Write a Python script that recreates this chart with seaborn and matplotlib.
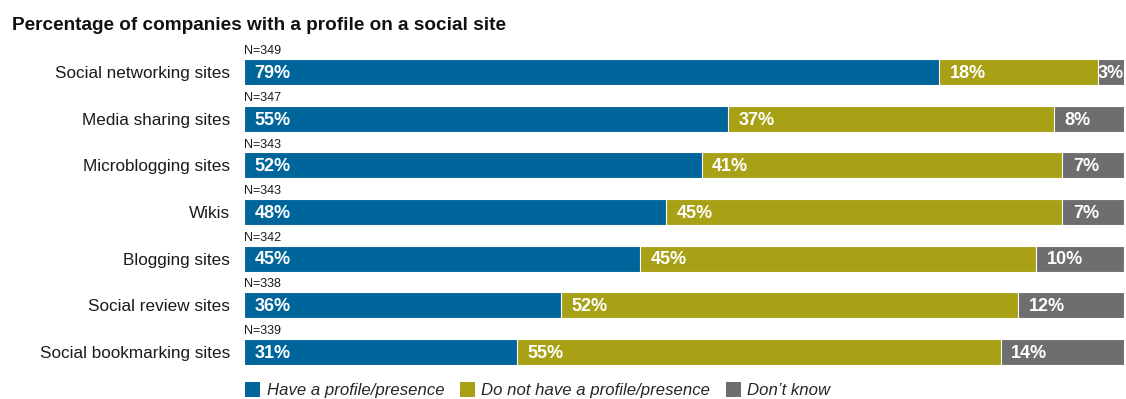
import matplotlib
matplotlib.use("Agg")
import matplotlib.pyplot as plt
from matplotlib.patches import Patch
import seaborn as sns
import pandas as pd
import numpy as np

categories = ["Social networking sites", "Media sharing sites", "Microblogging sites",
              "Wikis", "Blogging sites", "Social review sites", "Social bookmarking sites"]
have = [79, 55, 52, 48, 45, 36, 31]
have_not = [18, 37, 41, 45, 45, 52, 55]
dont_know = [3, 8, 7, 7, 10, 12, 14]
n_values = [349, 347, 343, 343, 342, 338, 339]
series_names = ["Have a profile/presence", "Do not have a profile/presence", "Don\u2019t know"]
title = "Percentage of companies with a profile on a social site"

colors = ["#00659b", "#a8a116", "#6e6e70"]

sns.set_theme(style="white")
plt.rcParams["font.family"] = ["Liberation Sans", "DejaVu Sans"]

df = pd.DataFrame({"category": categories, "have": have, "have_not": have_not,
                   "dont_know": dont_know})
df["c1"] = df["have"]
df["c2"] = df["have"] + df["have_not"]
df["c3"] = df["c2"] + df["dont_know"]

fig = plt.figure(figsize=(11.26, 3.99), dpi=100)
ax = fig.add_axes([244 / 1126, 1 - 375 / 399, 880 / 1126, (375 - 49) / 399])

bw = 0.56
for col, c in zip(["c3", "c2", "c1"], colors[::-1]):
    sns.barplot(data=df, x=col, y="category", color=c, saturation=1, width=bw,
                edgecolor="white", linewidth=0.8, ax=ax, orient="h")

ax.set_xlim(0, 100)
ax.set_xlabel("")
ax.set_ylabel("")
ax.set_xticks([])
ax.tick_params(axis="y", length=0, pad=10, labelsize=12.3, labelcolor="#1a1a1a")
for s in ax.spines.values():
    s.set_visible(False)

for i in range(len(categories)):
    starts = [0, have[i], have[i] + have_not[i]]
    vals = [have[i], have_not[i], dont_know[i]]
    for st, v in zip(starts, vals):
        off = 1.2 if v > 5 else 0.05
        ax.text(st + off, i + 0.03, f"{v}%", color="white", fontweight="bold",
                fontsize=13, va="center", ha="left")
    ax.text(0, i - bw / 2 - 0.04, f"N={n_values[i]}", fontsize=9, color="#1a1a1a",
            va="bottom", ha="left")

fig.text(12 / 1126, 1 - 26 / 399, title, fontsize=13.7, fontweight="bold",
         va="center", ha="left", color="#111111")

handles = [Patch(facecolor=c, edgecolor="none") for c in colors]
fig.legend(handles, series_names, loc="center left", bbox_to_anchor=(245 / 1126, 1 - 390 / 399),
           ncol=3, frameon=False, borderpad=0, borderaxespad=0, handlelength=0.9,
           handleheight=1.0, handletextpad=0.4, columnspacing=0.9,
           prop={"style": "italic", "size": 12.1})

fig.savefig("out.png", dpi=100)
